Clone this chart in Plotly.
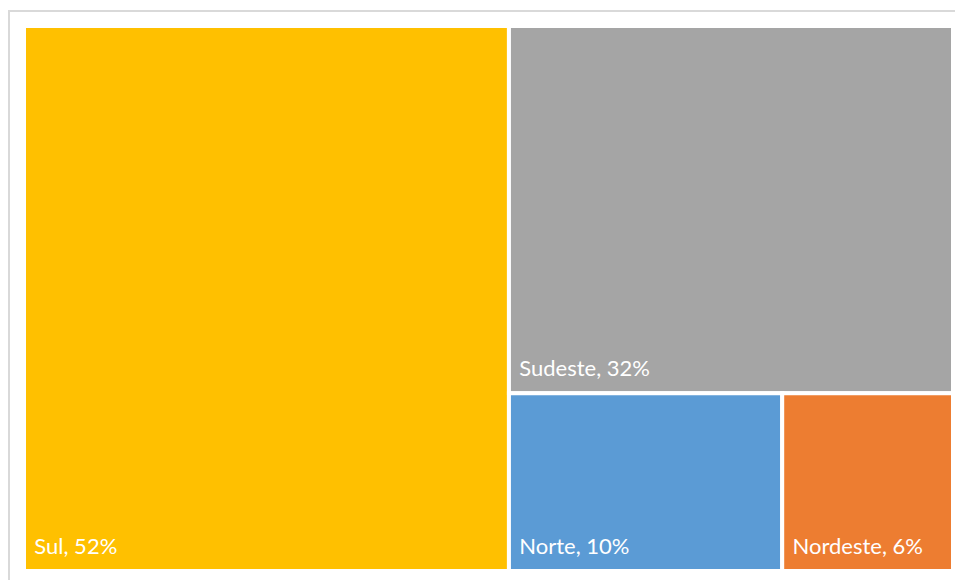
import plotly.graph_objects as go

labels = ["Sul", "Sudeste", "Norte", "Nordeste"]
values = [52.2, 32.2, 9.6, 6.0]   # shares (shown rounded)
colors = ["#FFC000", "#A5A5A5", "#5B9BD5", "#ED7D31"]

W, H = 955, 580
# plot area (px): x 24..953, y 26..571 (white 4px tile strokes eat 2px per outer edge)
ml, mr, mt, mb = 24, W - 953, 26, H - 571
pw, ph = W - ml - mr, H - mt - mb

fig = go.Figure(go.Treemap(
    labels=labels,
    parents=[""] * len(labels),
    values=values,
    sort=False,
    marker=dict(colors=colors, line=dict(color="white", width=4),
                pad=dict(t=0, l=0, r=0, b=0)),
    pathbar=dict(visible=False),
    texttemplate="<span style='font-size:22px'>\u2004%{label}, %{value:.0f}%</span><br>\u00a0",
    textposition="bottom left",
    textfont=dict(family="Lato, Open Sans, sans-serif", size=9, color="white"),
    tiling=dict(packing="squarify", pad=0),
    hoverinfo="label+value",
))

def px_x(x):
    return (x - ml) / pw

def px_y(y):
    return 1 - (y - mt) / ph

fig.add_shape(type="rect", xref="paper", yref="paper",
              x0=px_x(9), x1=px_x(962), y0=px_y(11), y1=px_y(590),
              line=dict(color="#D9D9D9", width=2), fillcolor="rgba(0,0,0,0)")

fig.update_layout(
    width=W, height=H,
    margin=dict(l=ml, r=mr, t=mt, b=mb),
    paper_bgcolor="white",
    plot_bgcolor="white",
    showlegend=False,
)

fig.write_html(
    "out.html",
    config={"displayModeBar": False},
    post_script="document.body.style.margin='0';document.body.style.overflow='hidden';",
)
